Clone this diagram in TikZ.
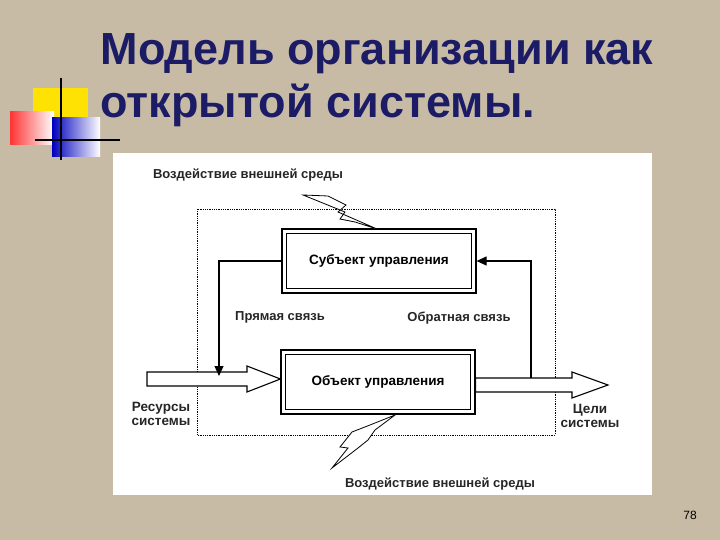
\documentclass[tikz,border=0pt]{standalone}
\usepackage{fontspec}
\setmainfont{Liberation Sans}
\usetikzlibrary{positioning, arrows.meta}
\definecolor{paper}{HTML}{C8BBA6}
\definecolor{titleblue}{HTML}{1C1C66}
\tikzset{
  lbl/.style={font=\fontsize{13}{14}\bfseries\selectfont, align=center, text=black!85},
  block/.style={draw, line width=1.2pt, minimum width=194pt, minimum height=64pt, inner sep=0pt, font=\fontsize{13.5}{15}\bfseries\selectfont},
  flow/.style={line width=1.2pt, -{Triangle[length=10pt, width=9pt]}},
  hollow/.style={draw, line width=1.1pt, fill=white},
  bolt/.style={draw, thick, fill=white, line join=miter}
}
\begin{document}
\begin{tikzpicture}[x=1pt, y=-1pt]
	\useasboundingbox[fill=paper] (0,0) rectangle (720,540);
	% decoration
	\fill[yellow!85!orange] (33,88) rectangle (88,118);
	\shade[left color=red!80, right color=white] (10,112) rectangle (54,145);
	\shade[left color=blue!75!black, right color=white] (52,118) rectangle (100,157);
	\draw[very thick] (61,78) -- (61,160);
	\draw[very thick] (35,140) -- (120,140);
	\node[anchor=west, text=titleblue, font=\fontsize{45}{53}\bfseries\selectfont, align=left] (title) at (97,80) {Модель организации как\\открытой системы.};
	% panel
	\fill[white] (113,153) rectangle (652,495);
	\draw[densely dotted, thick] (197,209) rectangle (555,435);
	\node[block] (subj) at (379,261) {Субъект управления};
	\draw[line width=1.2pt] (subj.north west) ++(5,5) rectangle ([shift={(-5,-5)}]subj.south east);
	\node[block] (obj) at (378,382) {Объект управления};
	\draw[line width=1.2pt] (obj.north west) ++(5,5) rectangle ([shift={(-5,-5)}]obj.south east);
	% hollow arrows
	\coordinate (res) at (147,379);
	\coordinate (goal) at (608,385);
	\draw[hollow] (res) ++(0,-7) -- (247,372) -- (247,366) -- (obj.west |- 0,379) -- (247,392) -- (247,386) -- (147,386) -- cycle;
	\draw[hollow] (obj.east |- 0,378) -- (572,378) -- (572,372) -- (goal) -- (572,398) -- (572,392) -- (obj.east |- 0,392) -- cycle;
	% links
	\draw[flow] (subj.west) -| (219,376);
	\draw[flow] (531,378) |- (subj.east);
	% bolts
	\draw[bolt] (303,195) -- (328,196) -- (346,205) -- (338,212) -- (377,229) -- (355,222) -- (340,219) -- (345,212) -- cycle;
	\draw[bolt] (395,415) -- (375,430) -- (368,440) -- (358,448) -- (332,468) -- (348,448) -- (340,447) -- (352,432) -- (370,425) -- cycle;
	% labels
	\node[lbl] (envtop) at (248,175) {Воздействие внешней среды};
	\node[lbl] (envbot) at (440,484) {Воздействие внешней среды};
	\node[lbl] (direct) at (280,317) {Прямая связь};
	\node[lbl] (back) at (459,318) {Обратная связь};
	\node[lbl, font=\fontsize{13.5}{14}\bfseries\selectfont] (reslbl) at (161,414) {Ресурсы\\системы};
	\node[lbl, font=\fontsize{13.5}{14}\bfseries\selectfont] (goallbl) at (590,416) {Цели\\системы};
	\node[font=\fontsize{12}{14}\selectfont] (page) at (690,515) {78};
\end{tikzpicture}
\end{document}
